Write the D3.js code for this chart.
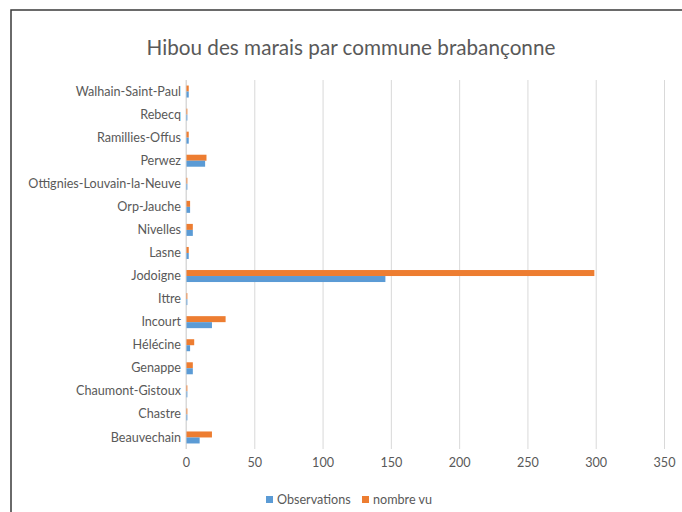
<!DOCTYPE html>
<html>
<head>
<meta charset="utf-8">
<script src="https://cdn.jsdelivr.net/npm/d3@7"></script>
<style>
  body { margin: 0; background: #fff; }
  svg text { font-family: Lato, "Open Sans", sans-serif; fill: #595959; }
  .grid line { stroke: #d9d9d9; }
  .grid path { display: none; }
</style>
</head>
<body>
<div id="chart"></div>
<script>
// communes, bottom to top as in the picture
var communes = ["Beauvechain","Chastre","Chaumont-Gistoux","Genappe","Hélécine","Incourt","Ittre","Jodoigne",
                "Lasne","Nivelles","Orp-Jauche","Ottignies-Louvain-la-Neuve","Perwez","Ramillies-Offus","Rebecq","Walhain-Saint-Paul"];
var observations = [10,1,1,5,3,19,1,146,2,5,3,1,14,2,1,2];
var nombreVu     = [19,1,1,5,6,29,1,299,2,5,3,1,15,2,1,2];
var xTicks = [0,50,100,150,200,250,300,350];
var seriesNames = ["Observations","nombre vu"];
var colors = ["#5B9BD5","#ED7D31"];

var width = 682, height = 512;
var margin = {top:80, left:186, right:18, bottom:63};
var inner_w = 664 - margin.left;
var inner_h = 449 - margin.top;

var svg = d3.select("#chart").append("svg")
            .attr("width",width)
            .attr("height",height);

// frame of the screenshot
svg.append("rect")
   .attr("x",11).attr("y",10)
   .attr("width",width).attr("height",height)
   .attr("fill","#fff")
   .attr("stroke","#3a3a3a")
   .attr("stroke-width",1.5);

svg.append("text")
   .attr("x",351).attr("y",55)
   .attr("text-anchor","middle")
   .style("font-size","20.7px")
   .text("Hibou des marais par commune brabançonne");

var g = svg.append("g")
           .attr("transform","translate(" + margin.left + "," + margin.top + ")");

var xScale = d3.scaleLinear().domain([0,350]).range([0,inner_w]);
var yScale = d3.scaleBand().domain(communes.slice().reverse()).range([0,inner_h]);

g.append("g")
 .attr("class","grid")
 .call(d3.axisBottom(xScale).tickValues(xTicks).tickSize(inner_h).tickFormat(""));

// bars: orange above, blue below within each band
var barH = 6;
var rows = communes.map(function(c,i){
	return {name:c, obs:observations[i], vu:nombreVu[i]};
});

g.selectAll(".bar_vu").data(rows).enter().append("rect")
 .attr("class","bar_vu")
 .attr("x",xScale(0))
 .attr("y",function(d){ return yScale(d.name) + yScale.bandwidth()/2 - barH; })
 .attr("width",function(d){ return xScale(d.vu) - xScale(0); })
 .attr("height",barH)
 .attr("fill",colors[1]);

g.selectAll(".bar_obs").data(rows).enter().append("rect")
 .attr("class","bar_obs")
 .attr("x",xScale(0))
 .attr("y",function(d){ return yScale(d.name) + yScale.bandwidth()/2; })
 .attr("width",function(d){ return xScale(d.obs) - xScale(0); })
 .attr("height",barH)
 .attr("fill",colors[0]);

// y axis line
g.append("line")
 .attr("x1",0).attr("x2",0).attr("y1",0).attr("y2",inner_h)
 .attr("stroke","#d9d9d9");

var yAxis = g.append("g").call(d3.axisLeft(yScale).tickSize(0).tickPadding(5));
yAxis.select(".domain").remove();
yAxis.selectAll("text").style("font-size","12.6px").style("fill","#595959");

var xAxis = g.append("g")
             .attr("transform","translate(0," + inner_h + ")")
             .call(d3.axisBottom(xScale).tickValues(xTicks).tickSize(0).tickPadding(9));
xAxis.select(".domain").remove();
xAxis.selectAll("text").style("font-size","12.6px").style("fill","#595959");

// legend
var legend = svg.append("g").attr("transform","translate(266,500)");
var lx = [0,96];
seriesNames.forEach(function(s,i){
	legend.append("rect")
	      .attr("x",lx[i]).attr("y",-4)
	      .attr("width",7).attr("height",7)
	      .attr("fill",colors[i]);
	legend.append("text")
	      .attr("x",lx[i] + 11).attr("y",4)
	      .style("font-size","12.6px")
	      .text(s);
});
</script>
</body>
</html>
